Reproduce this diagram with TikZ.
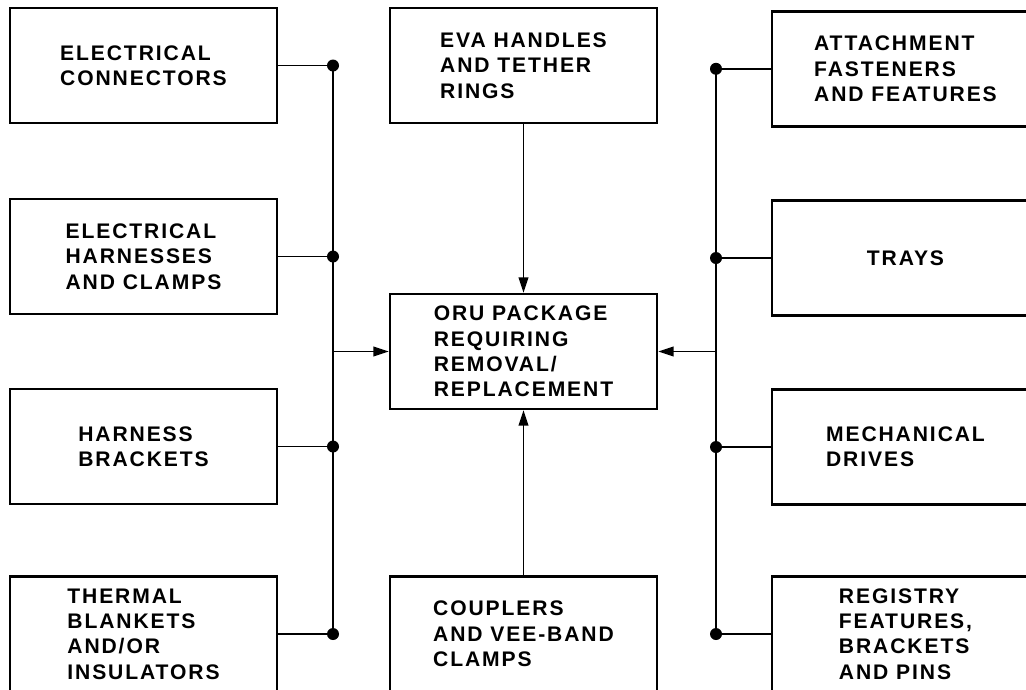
\documentclass[tikz,border=0pt]{standalone}
\usepackage{fontspec}
\setmainfont[LetterSpace=9]{Liberation Sans}
\usetikzlibrary{arrows.meta}
\begin{document}
\begin{tikzpicture}[
  part/.style={draw, line width=1.9pt, minimum width=6.675cm, minimum height=2.875cm, align=left, font=\bfseries\fontsize{15}{18}\selectfont},
  junction/.style={circle, fill, inner sep=0pt, minimum size=3mm},
  link/.style={line width=1.2pt},
  >={Triangle[length=3.8mm, width=2.4mm]}
]
\useasboundingbox (0,0) rectangle (25.65,-17.225);
\clip (0,0) rectangle (25.65,-17.225);
\node[part] (ec) at (3.5875,-1.6375) {ELECTRICAL\\CONNECTORS};
\node[part] (eh) at (3.5875,-6.4125) {ELECTRICAL\\HARNESSES\\AND CLAMPS};
\node[part] (hb) at (3.5875,-11.1625) {HARNESS\\BRACKETS};
\node[part] (tb) at (3.5875,-15.85) {THERMAL\\BLANKETS\\AND/OR\\INSULATORS};
\node[part] (eva) at (13.0875,-1.6375) {EVA HANDLES\\AND TETHER\\RINGS};
\node[part] (oru) at (13.0875,-8.7875) {ORU PACKAGE\\REQUIRING\\REMOVAL/\\REPLACEMENT};
\node[part] (cvb) at (13.0875,-15.85) {COUPLERS\\AND VEE-BAND\\CLAMPS};
\node[part] (af) at (22.6375,-1.72) {ATTACHMENT\\FASTENERS\\AND FEATURES};
\node[part] (tr) at (22.6375,-6.45) {TRAYS};
\node[part] (md) at (22.6375,-11.175) {MECHANICAL\\DRIVES};
\node[part] (rf) at (22.6375,-15.85) {REGISTRY\\FEATURES,\\BRACKETS\\AND PINS};
\coordinate (lbus) at (8.325,0);
\coordinate (rbus) at (17.9,0);
\foreach \n in {ec,eh,hb,tb}
  \draw[link] (\n) -- (\n -| lbus) node[junction] {};
\foreach \n in {af,tr,md,rf}
  \draw[link] (\n) -- (\n -| rbus) node[junction] {};
\draw[link] (ec -| lbus) -- (tb -| lbus);
\draw[link] (af -| rbus) -- (rf -| rbus);
\draw[link,->] (oru -| lbus) -- (oru);
\draw[link,->] (oru -| rbus) -- (oru);
\draw[link,->] (eva) -- (oru);
\draw[link,->] (cvb) -- (oru);
\end{tikzpicture}
\end{document}
